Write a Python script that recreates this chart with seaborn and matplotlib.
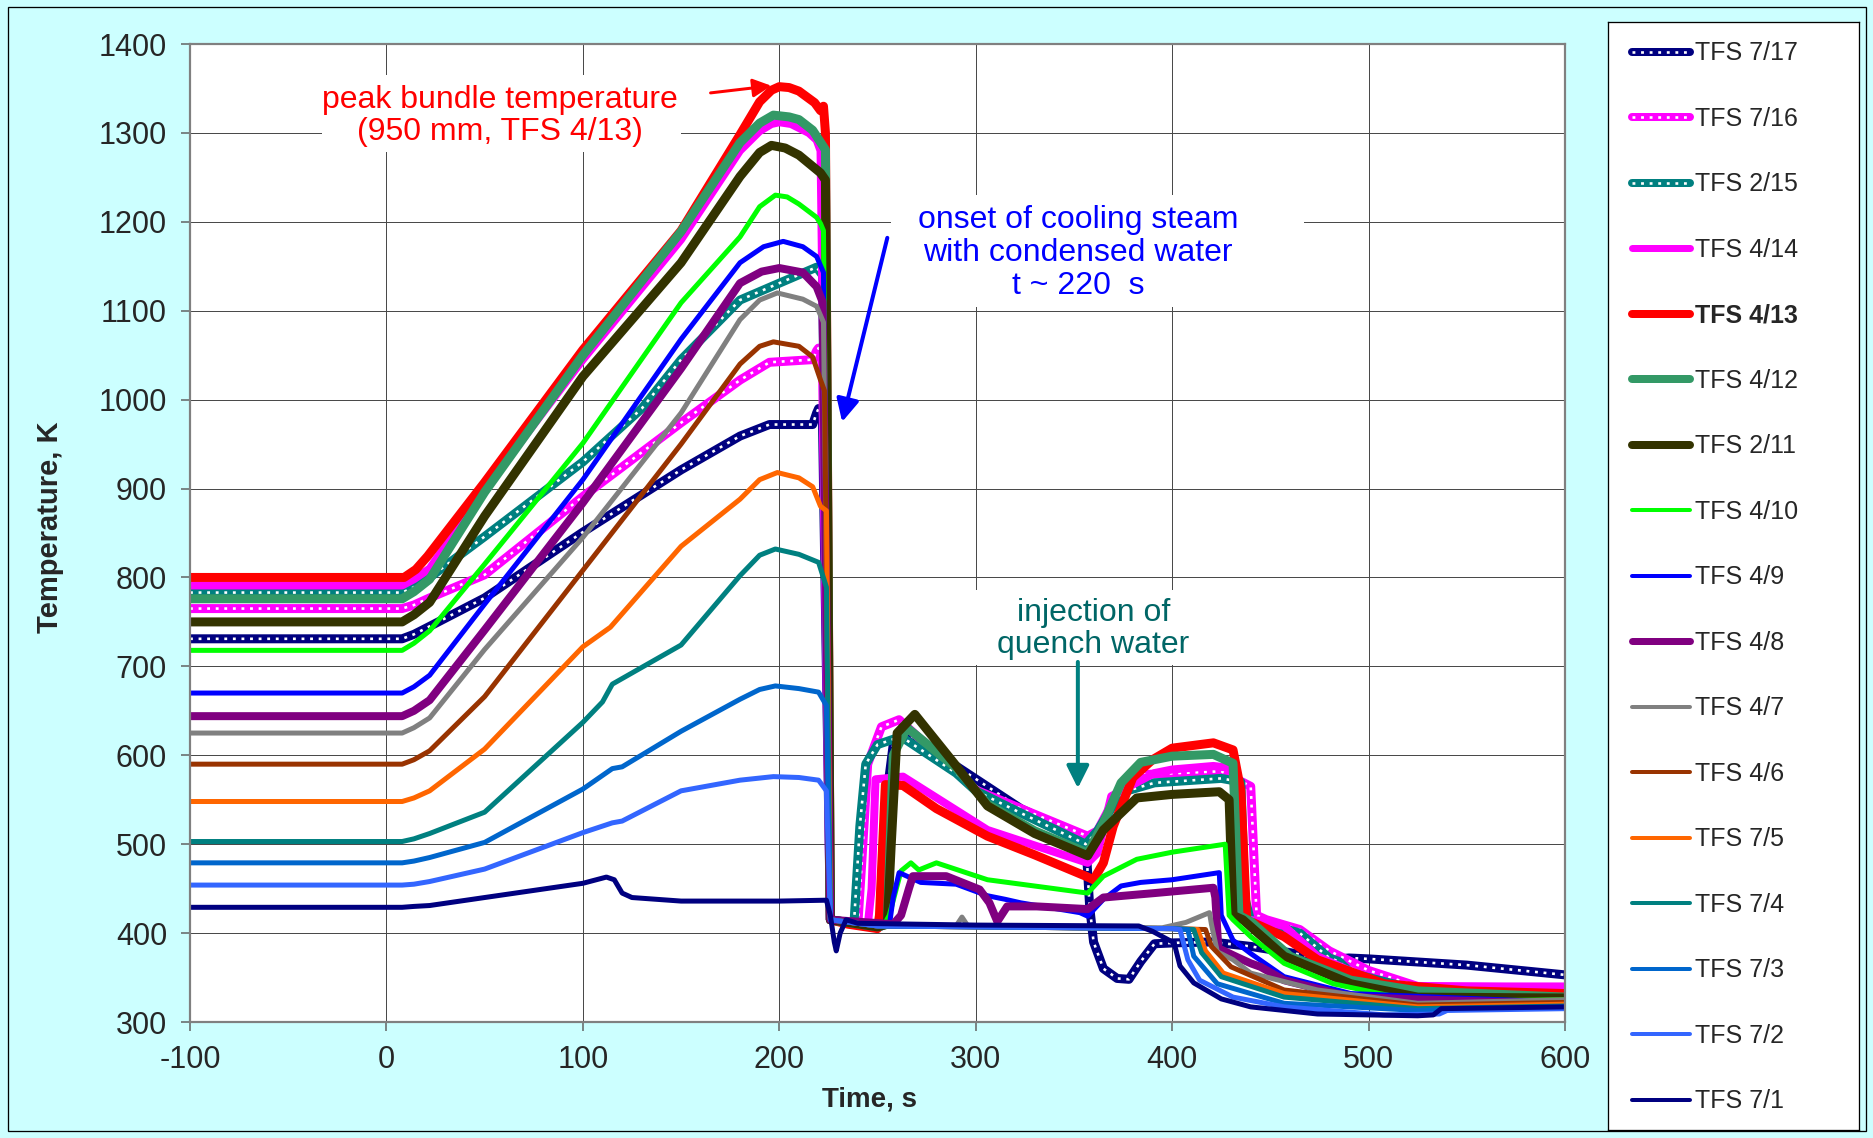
import matplotlib
matplotlib.use("Agg")
import matplotlib.pyplot as plt
import pandas as pd
import seaborn as sns
from matplotlib.lines import Line2D
from matplotlib.legend_handler import HandlerTuple
from matplotlib.patches import Rectangle

sns.set_style("white")
plt.rcParams["font.family"] = ["Liberation Sans", "DejaVu Sans"]
plt.rcParams["axes.unicode_minus"] = False

# ---------------- thermocouple traces: time (s) / temperature (K) ----------------
time_7_17 = [-100, 8, 14, 22, 50, 100, 150, 180, 195, 217, 219, 220, 222, 226, 240, 252, 255, 258, 265, 290, 323,
             356, 358, 360, 365, 372, 378, 384, 391, 401, 420, 440, 460, 480, 490, 500, 550, 600]
temp_7_17 = [731, 731, 736, 745, 777, 851, 921, 959, 972, 972, 985, 990, 975, 415, 410, 408, 560, 612, 625, 588, 540,
             505, 430, 390, 360, 349, 348, 368, 388, 389, 390, 385, 378, 370, 372, 371, 364, 353]

time_7_16 = [-100, 8, 14, 22, 50, 100, 150, 180, 195, 217, 219, 220, 222, 226, 240, 242, 245, 252, 261, 300, 357,
             362, 368, 382, 425, 440, 443, 448, 465, 480, 500, 525, 600]
temp_7_16 = [765, 765, 769, 777, 803, 891, 974, 1022, 1042, 1045, 1055, 1058, 1040, 415, 410, 480, 590, 632, 640, 561, 509,
             515, 540, 578, 582, 565, 420, 415, 404, 380, 358, 340, 338]

time_2_15 = [-100, 8, 14, 22, 50, 100, 130, 150, 180, 200, 219, 222, 226, 238, 241, 244, 250, 262, 290, 300, 323, 356,
             362, 374, 391, 425, 435, 437, 440, 448, 465, 480, 485, 491, 525, 600]
temp_2_15 = [783, 783, 789, 800, 846, 930, 990, 1045, 1112, 1131, 1149, 1140, 415, 410, 520, 590, 612, 621, 580, 560, 535, 500,
             515, 558, 569, 574, 570, 440, 413, 411, 400, 372, 368, 355, 336, 336]

time_4_14 = [-100, 8, 14, 22, 50, 100, 150, 180, 190, 196, 200, 206, 215, 219, 221, 226, 245, 247, 249, 263, 306, 357, 362,
             369, 391, 400, 421, 432, 435, 445, 457, 474, 508, 600]
temp_4_14 = [791, 791, 798, 810, 899, 1045, 1180, 1280, 1302, 1310, 1312, 1310, 1300, 1292, 1280, 415, 408, 450, 573, 576, 516,
             479, 490, 554, 580, 584, 588, 585, 415, 414, 408, 374, 340, 340]

time_4_13 = [-100, 9, 15, 21, 50, 100, 150, 180, 190, 196, 200, 205, 210, 218, 221, 222.5, 223.5, 226, 235, 250, 251, 254, 263,
             280, 306, 330, 356, 360, 365, 370, 380, 390, 400, 421, 431, 435, 438, 441, 457, 474, 508, 550, 600]
temp_4_13 = [800, 800, 809, 824, 907, 1056, 1190, 1298, 1335, 1348, 1352, 1351, 1347, 1334, 1325, 1330, 1300, 415, 410, 405,
             420, 567, 566, 540, 509, 488, 464, 460, 479, 520, 575, 595, 608, 614, 606, 560, 412, 412, 396, 370, 343, 335, 332]

time_4_12 = [-100, 8, 14, 22, 50, 100, 150, 180, 190, 197, 205, 210, 217, 223.5, 226, 250, 255, 258, 265, 290, 306, 330, 357,
             365, 374, 384, 400, 421, 431, 434, 440, 460, 491, 525, 600]
temp_4_12 = [776, 776, 784, 798, 896, 1050, 1189, 1289, 1311, 1320, 1318, 1315, 1303, 1281, 415, 407, 410, 600, 631, 586, 545,
             515, 490, 524, 569, 592, 599, 601, 591, 420, 413, 374, 347, 335, 328]

time_2_11 = [-100, 8, 14, 22, 50, 100, 150, 180, 190, 196, 203, 210, 221, 223.5, 226, 250, 255, 257, 260, 269, 289, 306, 330,
             357, 365, 382, 400, 424, 429, 431, 436, 457, 491, 525, 600]
temp_2_11 = [750, 750, 758, 772, 869, 1026, 1154, 1251, 1278, 1286, 1283, 1275, 1255, 1247, 415, 407, 410, 500, 625, 646, 591,
             543, 512, 487, 516, 552, 556, 559, 550, 420, 415, 374, 343, 328, 327]

time_4_10 = [-100, 8, 14, 22, 50, 100, 150, 180, 190, 198, 204, 210, 219, 221, 222.5, 226, 253, 256, 262, 267, 271, 280, 306,
             357, 365, 382, 400, 427, 429, 431, 440, 457, 482, 525, 600]
temp_4_10 = [718, 718, 726, 740, 815, 951, 1109, 1183, 1217, 1230, 1228, 1220, 1205, 1198, 1190, 415, 408, 420, 470, 479, 471,
             479, 460, 445, 464, 483, 491, 500, 420, 415, 396, 366, 343, 323, 325]

time_4_9 = [-100, 8, 14, 22, 50, 100, 150, 180, 192, 202, 212, 219, 222.5, 226, 256, 258, 261, 272, 290, 306, 315, 323,
            353, 357, 365, 374, 384, 400, 424, 425, 431, 440, 457, 491, 600]
temp_4_9 = [670, 670, 677, 690, 770, 910, 1068, 1154, 1172, 1178, 1172, 1161, 1143, 415, 408, 440, 468, 457, 455, 442, 438,
            434, 423, 419, 438, 453, 457, 460, 468, 420, 392, 377, 351, 332, 322]

time_4_8 = [-100, 8, 14, 22, 50, 100, 150, 180, 191, 200, 212, 219, 222, 226, 258, 262, 266, 268, 285, 302, 307, 311,
            316, 331, 357, 365, 391, 421, 422, 423.5, 434, 440, 445, 457, 491, 600]
temp_4_8 = [644, 644, 650, 662, 741, 884, 1035, 1131, 1144, 1148, 1143, 1127, 1110, 415, 410, 420, 450, 464, 464, 449, 434,
            413, 430, 430, 427, 440, 445, 451, 440, 383, 372, 366, 362, 347, 328, 320]

time_4_7 = [-100, 8, 14, 22, 50, 100, 150, 180, 190, 199, 212, 219, 222.5, 226, 250, 290, 293, 296, 350, 395, 407, 419,
            420, 423, 431, 440, 474, 525, 600]
temp_4_7 = [625, 625, 631, 642, 719, 845, 985, 1090, 1112, 1120, 1113, 1105, 1087, 415, 408, 408, 418, 408, 406, 406, 412,
            423, 410, 379, 370, 355, 336, 321, 325]

time_4_6 = [-100, 8, 14, 22, 50, 100, 150, 180, 190, 197, 210, 217, 221, 223, 226, 250, 400, 417, 420, 430, 457, 525, 600]
temp_4_6 = [590, 590, 595, 605, 666, 808, 950, 1040, 1060, 1065, 1060, 1048, 1022, 1010, 415, 408, 405, 404, 385, 362, 336,
            319, 322]

time_7_5 = [-100, 8, 14, 22, 50, 100, 114, 150, 180, 190, 199, 210, 217, 221, 224, 226, 250, 400, 413, 417, 426, 457, 525, 600]
temp_7_5 = [548, 548, 552, 560, 607, 722, 744, 835, 888, 910, 918, 912, 902, 880, 875, 415, 408, 405, 404, 380, 355, 332, 317,
            320]

time_7_4 = [-100, 8, 14, 22, 50, 100, 110, 115, 150, 180, 190, 198, 210, 220, 224, 226, 250, 400, 411, 415, 425, 457, 525, 600]
temp_7_4 = [503, 503, 506, 512, 536, 637, 660, 680, 724, 802, 825, 832, 826, 817, 789, 415, 408, 405, 404, 378, 351, 328, 315,
            318]

time_7_3 = [-100, 8, 14, 22, 50, 100, 115, 120, 150, 180, 190, 198, 210, 220, 224, 226, 250, 400, 408, 411, 423, 457, 525, 600]
temp_7_3 = [479, 479, 481, 485, 502, 562, 585, 587, 627, 663, 674, 678, 675, 671, 656, 415, 408, 405, 404, 374, 343, 321, 313,
            317]

time_7_2 = [-100, 8, 14, 22, 50, 100, 115, 120, 150, 180, 197, 210, 220, 224, 226, 250, 400, 404, 408, 414, 431,
            457, 508, 536, 540, 600]
temp_7_2 = [454, 454, 455, 458, 472, 513, 524, 526, 560, 572, 576, 575, 572, 560, 415, 408, 405, 404, 370, 347, 328,
            317, 308, 309, 313, 315]

time_7_1 = [-100, 8, 14, 22, 50, 100, 112, 116, 120, 125, 150, 200, 224, 226, 228, 229, 231, 234, 240, 300, 383,
            390, 401, 404, 411, 425, 440, 474, 525, 533, 537, 600]
temp_7_1 = [429, 429, 430, 431, 440, 456, 463, 460, 445, 440, 436, 436, 437, 420, 390, 380, 400, 415, 411, 409, 408,
            402, 389, 363, 344, 326, 317, 309, 307, 308, 315, 317]

labels = ["TFS 7/17", "TFS 7/16", "TFS 2/15", "TFS 4/14", "TFS 4/13", "TFS 4/12", "TFS 2/11", "TFS 4/10",
          "TFS 4/9", "TFS 4/8", "TFS 4/7", "TFS 4/6", "TFS 7/5", "TFS 7/4", "TFS 7/3", "TFS 7/2", "TFS 7/1"]
times = [time_7_17, time_7_16, time_2_15, time_4_14, time_4_13, time_4_12, time_2_11, time_4_10,
         time_4_9, time_4_8, time_4_7, time_4_6, time_7_5, time_7_4, time_7_3, time_7_2, time_7_1]
temps = [temp_7_17, temp_7_16, temp_2_15, temp_4_14, temp_4_13, temp_4_12, temp_2_11, temp_4_10,
         temp_4_9, temp_4_8, temp_4_7, temp_4_6, temp_7_5, temp_7_4, temp_7_3, temp_7_2, temp_7_1]
colors = ["#000080", "#FF00FF", "#008080", "#FF00FF", "#FF0000", "#339966", "#333300", "#00FF00",
          "#0000FF", "#800080", "#808080", "#993300", "#FF6600", "#008080", "#0066CC", "#3366FF", "#000080"]
widths_px = [9, 9, 9, 8, 9, 9, 9, 5, 5, 8, 5, 5, 5, 5, 5, 5, 5]
dotted = [True, True, True] + [False] * 14

PX = 0.72  # points per pixel at dpi 100

fig = plt.figure(figsize=(18.74, 11.38), dpi=100, facecolor="#CCFFFF")
W, H = 1874.0, 1138.0
ax = fig.add_axes([190 / W, 1 - 1022 / H, 1375 / W, 978 / H])
ax.set_facecolor("white")

ax.set_xlim(-100, 600)
ax.set_ylim(300, 1400)
ax.set_xticks(range(-100, 601, 100))
ax.set_yticks(range(300, 1401, 100))
ax.set_axisbelow(True)
ax.grid(True, color="#4a4a4a", lw=1.0 * PX)
for s in ax.spines.values():
    s.set_color("#808080")
    s.set_linewidth(2.2 * PX)
ax.tick_params(axis="both", which="both", direction="out", length=9 * PX, width=1.5 * PX,
               color="#606060", labelsize=22, pad=10, left=True, bottom=True)

# white backing boxes behind the annotation texts
box_kw = dict(facecolor="white", edgecolor="none", zorder=1.5)
ax.add_patch(Rectangle((-33, 1278), 183, 87, **box_kw))
ax.add_patch(Rectangle((257, 1104), 210, 126, **box_kw))
ax.add_patch(Rectangle((290, 702), 128, 84, **box_kw))

handles = []
for lab, t, T, c, w, dot in zip(labels, times, temps, colors, widths_px, dotted):
    df = pd.DataFrame({"time": t, "temp": T})
    sns.lineplot(data=df, x="time", y="temp", ax=ax, color=c, lw=w * PX, sort=False,
                 estimator=None, legend=False, solid_joinstyle="round", solid_capstyle="round", zorder=2)
    h_main = Line2D([], [], color=c, lw=(w - 1) * PX, solid_capstyle="round")
    if dot:
        sns.lineplot(data=df, x="time", y="temp", ax=ax, color="white", lw=2.6 * PX, sort=False,
                     estimator=None, legend=False, linestyle=(0, (1.1, 2.2)), zorder=2)
        h_dot = Line2D([], [], color="white", lw=2.6 * PX, linestyle=(0, (1.1, 2.2)))
        handles.append((h_main, h_dot))
    else:
        handles.append(h_main)

ax.set_xlabel("Time, s", fontsize=20, fontweight="bold")
ax.set_ylabel("Temperature, K", fontsize=21, fontweight="bold")
ax.xaxis.set_label_coords(0.4945, -0.0656)
ax.yaxis.set_label_coords(-0.0917, 0.506)

# annotations
ax.text(58, 1319, "peak bundle temperature\n(950 mm, TFS 4/13)", color="#FF0000", fontsize=23,
        ha="center", va="center", linespacing=1.12, zorder=3)
ax.annotate("", xy=(196, 1353), xytext=(165, 1345),
            arrowprops=dict(arrowstyle="-|>", color="#FF0000", lw=3 * PX, mutation_scale=28,
                            shrinkA=0, shrinkB=0), zorder=4)

ax.text(352, 1165, "onset of cooling steam\nwith condensed water\nt ~ 220  s", color="#0000FF",
        fontsize=23, ha="center", va="center", linespacing=1.12, zorder=3)
ax.annotate("", xy=(232, 975), xytext=(255, 1182),
            arrowprops=dict(arrowstyle="-|>", color="#0000FF", lw=4 * PX, mutation_scale=34,
                            shrinkA=0, shrinkB=0), zorder=4)

ax.text(360, 742, "injection of\nquench water", color="#006666", fontsize=23,
        ha="center", va="center", linespacing=1.12, zorder=3)
ax.annotate("", xy=(352, 563), xytext=(352, 705),
            arrowprops=dict(arrowstyle="-|>", color="#008080", lw=4 * PX, mutation_scale=34,
                            shrinkA=0, shrinkB=0), zorder=4)

# legend panel
lax = fig.add_axes([1608 / W, 1 - 1130 / H, 251 / W, 1108 / H])
lax.set_facecolor("white")
lax.set_xticks([])
lax.set_yticks([])
for s in lax.spines.values():
    s.set_color("black")
    s.set_linewidth(1.3 * PX)
leg = lax.legend(handles, labels, loc="upper left", bbox_to_anchor=(0.096, 0.9825), frameon=False,
                 fontsize=18, handlelength=2.3, handletextpad=0.2, labelspacing=1.66,
                 borderaxespad=0, borderpad=0,
                 handler_map={tuple: HandlerTuple(ndivide=1)})
for txt in leg.get_texts():
    if txt.get_text() == "TFS 4/13":
        txt.set_fontweight("bold")

# outer frame of the figure
fig.patches.append(Rectangle((8 / W, 1 - 1131 / H), 1858 / W, 1124 / H, transform=fig.transFigure,
                             fill=False, edgecolor="black", lw=1.3 * PX))

fig.savefig("out.png", dpi=100, facecolor=fig.get_facecolor())
